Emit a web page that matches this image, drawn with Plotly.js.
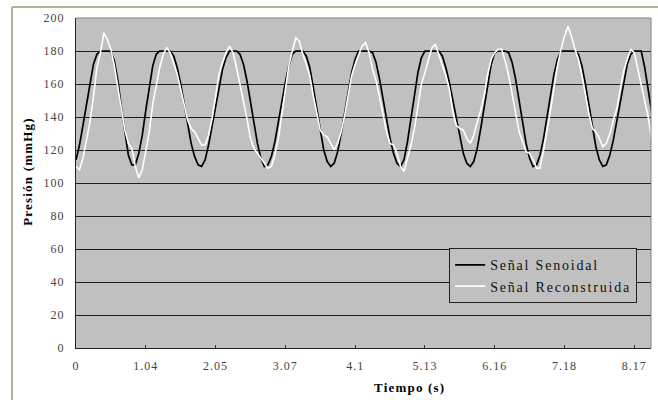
<!DOCTYPE html>
<html>
<head>
<meta charset="utf-8">
<script src="https://cdn.plot.ly/plotly-3.0.1.min.js"></script>
<style>
  html, body { margin: 0; padding: 0; background: #ffffff; }
  #chart { width: 658px; height: 400px; }
  .legendtext { letter-spacing: 1.8px; }
  .annotation-text { letter-spacing: 1.2px; }
  .xtick text, .ytick text { letter-spacing: 1px; }
</style>
</head>
<body>
<div id="chart"></div>
<script>
// Tick labels of the category-like time axis (one label every 20 samples)
const timeLabels = ['0', '1.04', '2.05', '3.07', '4.1', '5.13', '6.16', '7.18', '8.17'];
const samplesPerLabel = 20;

// Señal Senoidal (mmHg), one value per sample
const senoidal = [
  114,123,135,148,161,172,178,180,180,180,
  180,174,162,146,130,117,111,111,118,129,
  144,158,171,178,180,180,180,180,177,170,
  160,148,135,124,116,111,110,114,123,134,
  146,158,169,176,180,180,180,178,172,162,
  149,136,124,115,110,111,116,125,136,149,
  161,171,178,180,180,180,177,170,158,145,
  132,120,113,110,112,119,130,142,155,167,
  175,180,180,180,180,179,173,163,152,139,
  127,118,112,110,114,125,139,154,167,176,
  180,180,180,180,180,177,170,161,150,138,
  127,118,112,110,113,121,133,147,161,172,
  179,180,180,180,179,173,163,150,137,124,
  115,110,111,117,127,140,154,166,175,180,
  180,180,180,180,178,171,160,147,133,122,
  114,110,111,117,126,138,150,162,172,178,
  180,180,180,170,155,143
];

// Señal Reconstruida (mmHg), one value per sample
const reconstruida = [
  110,108,115,126,137,152,170,179,191,187,
  181,171,158,146,132,124,121,110,103,108,
  120,131,148,160,170,178,182,179,173,166,
  157,148,138,133,131,127,123,123,129,139,
  152,166,173,179,183,179,170,160,149,139,
  127,121,118,115,112,109,110,117,127,142,
  159,171,180,188,186,178,172,165,153,143,
  132,129,128,124,120,124,131,141,152,165,
  172,177,183,185,179,169,162,152,142,131,
  124,123,118,110,107,115,123,133,147,160,
  167,174,182,184,178,172,165,157,143,135,
  133,132,127,124,129,137,144,153,166,175,
  179,181,181,174,165,154,142,131,125,119,
  118,114,109,109,120,131,144,158,171,181,
  189,195,189,181,175,165,153,142,133,131,
  127,122,124,130,138,145,157,168,175,181,
  179,169,160,151,140,126
];

const sampleIdx = senoidal.map((_, i) => i);
const tickVals = timeLabels.map((_, k) => k * samplesPerLabel);
const serif = '"Liberation Serif", "Times New Roman", serif';

const traces = [
  {
    x: sampleIdx, y: senoidal, type: 'scatter', mode: 'lines',
    name: 'Señal Senoidal',
    line: { color: '#000000', width: 1.7 }
  },
  {
    x: sampleIdx, y: reconstruida, type: 'scatter', mode: 'lines',
    name: 'Señal Reconstruida',
    line: { color: '#ffffff', width: 1.6 }
  }
];

const layout = {
  width: 658, height: 400,
  margin: { l: 76, r: 7, t: 18, b: 52 },
  paper_bgcolor: '#ffffff',
  plot_bgcolor: '#c0c0c0',
  showlegend: true,
  xaxis: {
    range: [0, 164.8],
    tickmode: 'array', tickvals: tickVals, ticktext: timeLabels,
    ticks: 'inside', ticklen: 3, tickcolor: '#333333', tickwidth: 1,
    showgrid: false, zeroline: false,
    showline: true, linecolor: '#222222', linewidth: 1,
    ticklabelstandoff: 7,
    tickfont: { family: serif, size: 12, color: '#444444' }
  },
  yaxis: {
    range: [0, 200], tickmode: 'linear', tick0: 0, dtick: 20,
    ticks: '', showgrid: true, gridcolor: '#1e1e1e', gridwidth: 1,
    zeroline: false, showline: true, linecolor: '#222222', linewidth: 1,
    ticklabelstandoff: 8,
    tickfont: { family: serif, size: 12, color: '#444444' }
  },
  legend: {
    x: 0.649, y: 0.302, xanchor: 'left', yanchor: 'top',
    bgcolor: '#c0c0c0', bordercolor: '#222222', borderwidth: 1,
    font: { family: serif, size: 14, color: '#111111' }
  },
  annotations: [
    {
      text: 'Presión (mmHg)', xref: 'paper', yref: 'paper',
      x: -0.0857, y: 0.536, xanchor: 'center', yanchor: 'middle',
      textangle: -90, showarrow: false,
      font: { family: serif, size: 13, color: '#000000', weight: 'bold' }
    },
    {
      text: 'Tiempo (s)', xref: 'paper', yref: 'paper',
      x: 0.58, y: -0.121, xanchor: 'center', yanchor: 'middle',
      showarrow: false,
      font: { family: serif, size: 13, color: '#000000', weight: 'bold' }
    }
  ],
  shapes: [
    // plot-area top and right border (gray)
    { type: 'line', xref: 'paper', yref: 'paper', x0: 0, x1: 1, y0: 1, y1: 1, line: { color: '#808080', width: 1 } },
    { type: 'line', xref: 'paper', yref: 'paper', x0: 1, x1: 1, y0: 0, y1: 1, line: { color: '#808080', width: 1 } },
    // chart-area frame (olive), left and top edges
    { type: 'line', xref: 'paper', yref: 'paper', x0: -0.1113, x1: -0.1113, y0: -0.2, y1: 1.0333, line: { color: '#b3b48a', width: 2 } },
    { type: 'line', xref: 'paper', yref: 'paper', x0: -0.1113, x1: 1.03, y0: 1.0333, y1: 1.0333, line: { color: '#b3b48a', width: 2 } }
  ]
};

Plotly.newPlot('chart', traces, layout, { displayModeBar: false, staticPlot: true });
</script>
</body>
</html>
